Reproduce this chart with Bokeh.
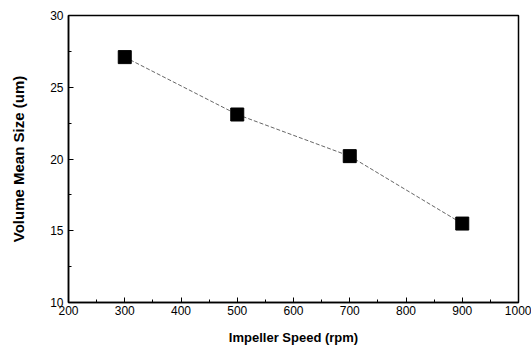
from bokeh.plotting import figure
from bokeh.models import Range1d, FixedTicker
from bokeh.embed import file_html
from bokeh.resources import INLINE

speed = [300, 500, 700, 900]
size_um = [27.1, 23.1, 20.2, 15.5]
x_ticks = [200, 300, 400, 500, 600, 700, 800, 900, 1000]
x_minor = [250, 350, 450, 550, 650, 750, 850, 950]
y_ticks = [10, 15, 20, 25, 30]
y_minor = [12.5, 17.5, 22.5, 27.5]

p = figure(width=531, height=347, output_backend="svg", toolbar_location=None,
           x_range=Range1d(200, 1000), y_range=Range1d(10, 30),
           min_border_left=68, min_border_right=13, min_border_top=15, min_border_bottom=45)
p.xgrid.visible = False
p.ygrid.visible = False
p.outline_line_color = "black"
p.outline_line_width = 1.5

p.line(speed, size_um, line_color="#666666", line_width=1, line_dash="4 2")
p.scatter(speed, size_um, marker="square", size=13, fill_color="black", line_color="black")

for ax in (p.xaxis[0], p.yaxis[0]):
    ax.major_tick_in = 5
    ax.major_tick_out = 0
    ax.minor_tick_in = 3
    ax.minor_tick_out = 0
    ax.axis_line_color = "black"
    ax.axis_line_width = 1.5
    ax.major_label_text_font = "Liberation Sans"
    ax.major_label_text_font_size = "12px"
    ax.major_label_text_color = "black"
    ax.axis_label_text_font = "Liberation Sans"
    ax.axis_label_text_font_style = "bold"
    ax.axis_label_text_color = "black"

p.xaxis[0].ticker = FixedTicker(ticks=x_ticks, minor_ticks=x_minor)
p.yaxis[0].ticker = FixedTicker(ticks=y_ticks, minor_ticks=y_minor)
p.xaxis[0].axis_label = "Impeller Speed (rpm)"
p.yaxis[0].axis_label = "Volume Mean Size (um)"
p.xaxis[0].axis_label_text_font_size = "13px"
p.yaxis[0].axis_label_text_font_size = "15px"
p.xaxis[0].major_label_standoff = 3
p.xaxis[0].axis_label_standoff = 12
p.yaxis[0].major_label_standoff = 5
p.yaxis[0].axis_label_standoff = 20

open("out.html", "w").write(file_html(p, INLINE))
